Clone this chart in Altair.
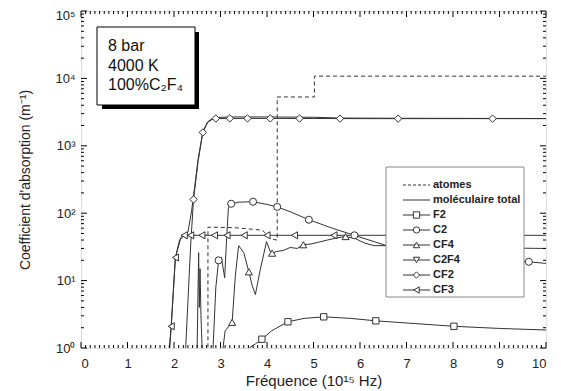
import altair as alt
import pandas as pd

# ---------------- data ----------------
atom_x = [2.73, 2.73, 3.3, 3.9, 4.1, 4.22, 4.22, 5.02, 5.02, 10.0]
atom_y = [0.5, 62, 61, 56, 41, 40, 5300, 5300, 10800, 10800]

total_x = [1.88, 1.94, 2.03, 2.15, 2.3, 2.38, 2.42, 2.52, 2.62, 2.72, 2.8, 2.9, 3.2, 4.0, 5.0, 5.6, 7.0, 10.0]
total_y = [0.5, 2.1, 22, 44, 52, 110, 180, 640, 1620, 2250, 2480, 2620, 2680, 2680, 2650, 2580, 2560, 2540]

f2_x = [3.62, 3.75, 3.89, 4.1, 4.45, 4.8, 5.22, 5.8, 6.34, 7.2, 8.02, 9.0, 10.0]
f2_y = [1.0, 1.15, 1.35, 1.8, 2.45, 2.75, 2.9, 2.75, 2.53, 2.3, 2.1, 1.95, 1.85]
f2_mx = [3.89, 4.45, 5.22, 6.34, 8.02]
f2_my = [1.35, 2.45, 2.9, 2.53, 2.1]

c2_x = [2.82, 2.9, 2.96, 3.02, 3.09, 3.13, 3.17, 3.23, 3.4, 3.7, 4.0, 4.22, 4.5, 4.9, 5.4, 5.88, 6.57, 7.3, 8.5, 9.63, 10.0]
c2_y = [0.5, 8, 20, 22, 11, 40, 120, 138, 146, 148, 135, 124, 105, 80, 60, 47, 33, 27, 22, 19, 18]
c2_mx = [2.96, 3.23, 3.70, 4.22, 4.9, 5.88, 7.3, 9.63]
c2_my = [20, 138, 148, 124, 80, 47, 27, 19]

cf4_x = [3.0, 3.1, 3.25, 3.32, 3.39, 3.5, 3.61, 3.68, 3.75, 3.85, 3.99, 4.07, 4.11, 4.2, 4.35, 4.5, 4.65, 4.78,
         4.95, 5.1, 5.3, 5.5, 5.69, 5.9, 6.1, 6.3, 6.57, 8.0, 10.0]
cf4_y = [0.5, 1.8, 2.4, 12, 33, 26, 13.5, 8.5, 6.2, 14, 38, 27, 25.5, 27, 28, 31, 30, 34,
         35, 37, 40, 43, 45, 42, 36, 33, 33, 31, 30]
cf4_mx = [3.25, 3.61, 4.11, 4.78, 5.69]
cf4_my = [2.4, 13.5, 25.5, 34, 45]

c2f4_x = [2.49, 2.53, 2.545, 2.56, 2.58, 2.62]
c2f4_y = [0.5, 26, 4, 15, 3, 0.5]

cf2_x = [2.23, 2.3, 2.36, 2.42, 2.52, 2.62, 2.72, 2.8, 2.9, 3.2, 4.0, 5.0, 6.0, 7.0, 8.0, 9.0, 10.0]
cf2_y = [0.5, 5, 35, 160, 600, 1580, 2200, 2420, 2540, 2550, 2550, 2540, 2530, 2530, 2530, 2530, 2530]
cf2_mx = [2.42, 2.62, 2.9, 3.2, 3.58, 4.07, 4.7, 5.57, 6.82, 8.85]
cf2_my = [160, 1580, 2540, 2550, 2550, 2550, 2540, 2535, 2530, 2530]

cf3_x = [1.86, 1.94, 2.03, 2.12, 2.22, 10.0]
cf3_y = [0.5, 2.1, 22, 40, 47, 47]
cf3_mx = [1.94, 2.03, 2.22, 2.36, 2.6, 2.87, 3.14, 3.51, 4.0, 4.59, 5.44]
cf3_my = [2.1, 22, 47, 47, 47, 47, 47, 47, 47, 47, 47]

legend_names = ["atomes", "moléculaire total", "F2", "C2", "CF4", "C2F4", "CF2", "CF3"]
legend_shapes = ["", "", "square", "circle", "triangle-up", "triangle-down", "diamond", "triangle-left"]

info_lines = ["8 bar", "4000 K", "100%C\u2082F\u2084"]

x_ticks = list(range(0, 11))
y_ticks = [1, 10, 100, 1000, 10000, 100000]

# ---------------- styling ----------------
W, H = 465, 337
TOP = 3
LC = "#333333"
FONT = "Liberation Sans"
xs = alt.Scale(domain=[0, 10], nice=False, zero=False)
ys = alt.Scale(type="log", domain=[1, 100000], nice=False)

XAX = alt.Axis(
    values=x_ticks, ticks=False, domain=False, grid=False, labelFont=FONT,
    labelFontSize=13, labelColor="#222", labelPadding=9,
    title="Fréquence (10\u00b9\u2075 Hz)", titleFont=FONT, titleFontSize=15,
    titleFontWeight="normal", titleColor="#222", titlePadding=3)
YAX = alt.Axis(
    values=y_ticks, ticks=False, domain=False, grid=False, labelFont=FONT,
    labelFontSize=13, labelColor="#222", labelPadding=6,
    labelOffset={"condition": {"test": "datum.value >= 100000", "value": 4}, "value": 0},
    labelExpr="'10' + ['\u2070','\u00b9','\u00b2','\u00b3','\u2074','\u2075'][round(log(datum.value)/LN10)]",
    title="Coefficient d'absorption  (m\u207b\u00b9)", titleFont=FONT, titleFontSize=14,
    titleFontWeight="normal", titleColor="#222", titlePadding=22)


def X(field):
    return alt.X(field, scale=xs, axis=XAX)


def Y(field):
    return alt.Y(field, scale=ys, axis=YAX)


def line(xv, yv, dash=None):
    df = pd.DataFrame({"x": xv, "y": yv, "o": list(range(len(xv)))})
    kw = dict(color=LC, strokeWidth=1, clip=True)
    if dash:
        kw["strokeDash"] = dash
    return alt.Chart(df).mark_line(**kw).encode(x=X("x:Q"), y=Y("y:Q"), order="o:Q")


def pts(xv, yv, shape, size=45):
    df = pd.DataFrame({"x": xv, "y": yv})
    return alt.Chart(df).mark_point(
        shape=shape, filled=True, fill="white", stroke=LC, strokeWidth=1,
        size=size, opacity=1, clip=True
    ).encode(x=X("x:Q"), y=Y("y:Q"))


# inner tick marks on all four sides
xmaj = pd.DataFrame({"x": x_ticks})
xmin = pd.DataFrame({"x": [i / 10 for i in range(1, 100) if i % 10 != 0]})
ymaj = pd.DataFrame({"y": y_ticks})
ymin = pd.DataFrame({"y": [m * 10 ** d for d in range(5) for m in range(2, 10)]})


def xtick(df, length):
    b = alt.Chart(df).mark_rule(color="black", strokeWidth=1).encode(
        x=X("x:Q"), y=alt.value(H), y2=alt.value(H - length))
    t = alt.Chart(df).mark_rule(color="black", strokeWidth=1).encode(
        x=X("x:Q"), y=alt.value(0), y2=alt.value(length))
    return b + t


def ytick(df, length):
    l = alt.Chart(df).mark_rule(color="black", strokeWidth=1).encode(
        y=Y("y:Q"), x=alt.value(0), x2=alt.value(length))
    r = alt.Chart(df).mark_rule(color="black", strokeWidth=1).encode(
        y=Y("y:Q"), x=alt.value(W), x2=alt.value(W - length))
    return l + r


ticks = xtick(xmaj, 6) + xtick(xmin, 3) + ytick(ymaj, 6) + ytick(ymin, 3)

series = (
    line(atom_x, atom_y, dash=[4, 3])
    + line(total_x, total_y)
    + line(f2_x, f2_y)
    + line(c2_x, c2_y)
    + line(cf4_x, cf4_y)
    + line(c2f4_x, c2f4_y)
    + line(cf2_x, cf2_y)
    + line(cf3_x, cf3_y)
    + pts(f2_mx, f2_my, "square", 40)
    + pts(c2_mx, c2_my, "circle", 50)
    + pts(cf4_mx, cf4_my, "triangle-up", 50)
    + pts(cf2_mx, cf2_my, "diamond", 55)
    + pts(cf3_mx, cf3_my, "triangle-left", 50)
)

# legend (layout in pixels, relative to the plot area)
OY = 10 - (8 + TOP)  # offset so positions follow the reference page
LX0, LX1, LY0, LY1 = 305, 443, 157 + OY, 287 + OY
leg_box = alt.Chart(pd.DataFrame({"a": [0]})).mark_rect(
    fill="white", stroke="#888", strokeWidth=1).encode(
    x=alt.value(LX0), x2=alt.value(LX1), y=alt.value(LY0), y2=alt.value(LY1))
leg_df = pd.DataFrame({"name": legend_names, "shape": legend_shapes, "i": list(range(len(legend_names)))})
leg_base = alt.Chart(leg_df).transform_calculate(py=f"{175 + OY} + 15*datum.i")
leg_dash = leg_base.transform_filter("datum.i == 0").mark_rule(
    color=LC, strokeWidth=1, strokeDash=[3, 2]).encode(
    x=alt.value(322), x2=alt.value(349), y=alt.Y("py:Q", scale=None))
leg_solid = leg_base.transform_filter("datum.i > 0").mark_rule(
    color=LC, strokeWidth=1).encode(
    x=alt.value(322), x2=alt.value(349), y=alt.Y("py:Q", scale=None))
leg_pts = leg_base.transform_filter("datum.i > 1").mark_point(
    filled=True, fill="white", stroke=LC, strokeWidth=1, size=40, opacity=1).encode(
    x=alt.value(335.5), y=alt.Y("py:Q", scale=None), shape=alt.Shape("shape:N", scale=None))
leg_txt = leg_base.mark_text(
    align="left", baseline="middle", font=FONT, fontSize=11, fontWeight="bold", color="#222").encode(
    x=alt.value(352), y=alt.Y("py:Q", scale=None), text="name:N")
legend = leg_box + leg_dash + leg_solid + leg_pts + leg_txt

# info box with shadow
one = pd.DataFrame({"a": [0]})
shadow = alt.Chart(one).mark_rect(fill="black").encode(
    x=alt.value(21), x2=alt.value(118), y=alt.value(22 + OY), y2=alt.value(99 + OY))
box = alt.Chart(one).mark_rect(fill="white", stroke="black", strokeWidth=1).encode(
    x=alt.value(16), x2=alt.value(114), y=alt.value(17 + OY), y2=alt.value(95 + OY))
info_df = pd.DataFrame({"t": info_lines, "i": [0, 1, 2]})
info = alt.Chart(info_df).transform_calculate(py=f"{36 + OY} + 19.5*datum.i").mark_text(
    align="left", baseline="middle", font=FONT, fontSize=16, color="#111").encode(
    x=alt.value(27), y=alt.Y("py:Q", scale=None), text="t:N")

chart = alt.layer(series, ticks, legend, shadow, box, info).properties(
    width=W, height=H,
    autosize=alt.AutoSizeParams(type="none"),
    padding={"left": 73, "top": TOP, "right": 7, "bottom": 42},
).configure_view(stroke="black", strokeWidth=1.5).configure(background="white")

chart.save("out.html", embed_options={"renderer": "svg", "actions": False})
